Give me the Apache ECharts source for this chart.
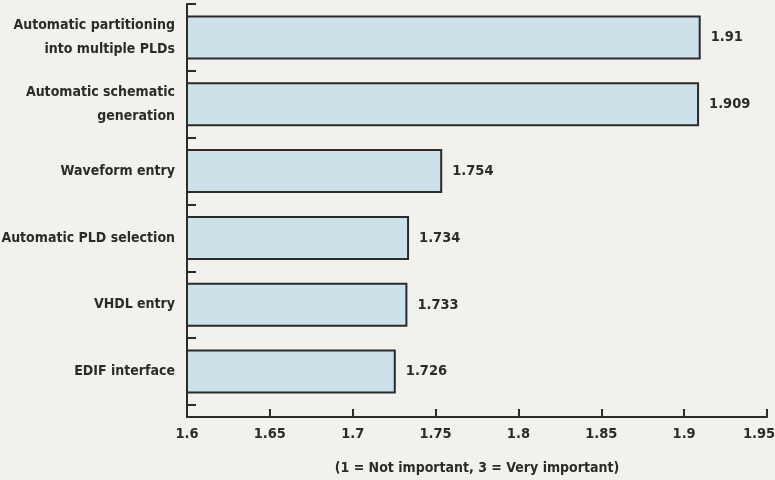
<!DOCTYPE html>
<html>
<head>
<meta charset="utf-8">
<script src="https://cdn.jsdelivr.net/npm/echarts@6/dist/echarts.min.js"></script>
<style>
  html, body { margin: 0; padding: 0; background: #f3f1eb; }
  #chart { width: 775px; height: 480px; }
</style>
</head>
<body>
<div id="chart"></div>
<script>
// Ratings of PLD design-tool features
const categories = [
  'Automatic partitioning\ninto multiple PLDs',
  'Automatic schematic\ngeneration',
  'Waveform entry',
  'Automatic PLD selection',
  'VHDL entry',
  'EDIF interface'
];
const ratings = [1.91, 1.909, 1.754, 1.734, 1.733, 1.726];
const scaleMin = 1.6;
const scaleMax = 1.95;
const scaleStep = 0.05;
const scaleName = '(1 = Not important, 3 = Very important)';

const FONT = '"DejaVu Sans Condensed", "Liberation Sans Narrow", "Liberation Sans", sans-serif';
const INK = '#2b2b2b';
const numText = { color: INK, fontFamily: FONT, fontWeight: 'bold', fontSize: 14.5 };

const chart = echarts.init(document.getElementById('chart'), null, { renderer: 'canvas' });

chart.setOption({
  backgroundColor: '#f3f1eb',
  animation: false,
  grid: [
    // frame: value axis and the full-height left spine
    { left: 187, right: 8, top: 4, bottom: 63, containLabel: false, outerBoundsMode: 'none' },
    // bars and category bands
    { left: 187, right: 8, top: 4, bottom: 75, containLabel: false, outerBoundsMode: 'none' }
  ],
  xAxis: [
    {
      gridIndex: 0,
      type: 'value',
      min: scaleMin,
      max: scaleMax,
      interval: scaleStep,
      axisLine: { show: true, lineStyle: { color: INK, width: 2 } },
      axisTick: { show: true, inside: true, length: 8, lineStyle: { color: INK, width: 2 } },
      splitLine: { show: false },
      axisLabel: Object.assign({
        margin: 10,
        // the last label is nudged left so it stays inside the canvas
        formatter: function (v) {
          const s = String(+v.toFixed(3));
          return Math.abs(v - scaleMax) < 1e-9 ? '{last|' + s + '}' : s;
        },
        rich: {
          last: Object.assign({ padding: [0, 16, 0, 0] }, numText)
        }
      }, numText),
      name: scaleName,
      nameLocation: 'middle',
      nameGap: 44,
      nameTextStyle: {
        color: INK,
        fontFamily: FONT,
        fontWeight: 'bold',
        fontSize: 14
      }
    },
    {
      gridIndex: 1,
      type: 'value',
      min: scaleMin,
      max: scaleMax,
      show: false
    }
  ],
  yAxis: [
    {
      gridIndex: 0,
      type: 'value',
      min: 0,
      max: 1,
      axisLine: { show: true, lineStyle: { color: INK, width: 2 } },
      axisTick: { show: false },
      axisLabel: { show: false },
      splitLine: { show: false }
    },
    {
      gridIndex: 1,
      type: 'category',
      inverse: true,
      data: categories,
      axisLine: { show: false },
      axisTick: { show: true, inside: true, length: 9, lineStyle: { color: INK, width: 2 } },
      axisLabel: {
        margin: 12,
        color: INK,
        fontFamily: FONT,
        fontWeight: 'bold',
        fontSize: 14,
        lineHeight: 24,
        align: 'right'
      }
    }
  ],
  series: [
    {
      type: 'bar',
      xAxisIndex: 1,
      yAxisIndex: 1,
      data: ratings,
      barWidth: 44,
      itemStyle: {
        color: '#cce1e8',
        borderColor: INK,
        borderWidth: 2
      },
      label: Object.assign({
        show: true,
        position: 'right',
        distance: 10
      }, numText)
    }
  ]
});
</script>
</body>
</html>
